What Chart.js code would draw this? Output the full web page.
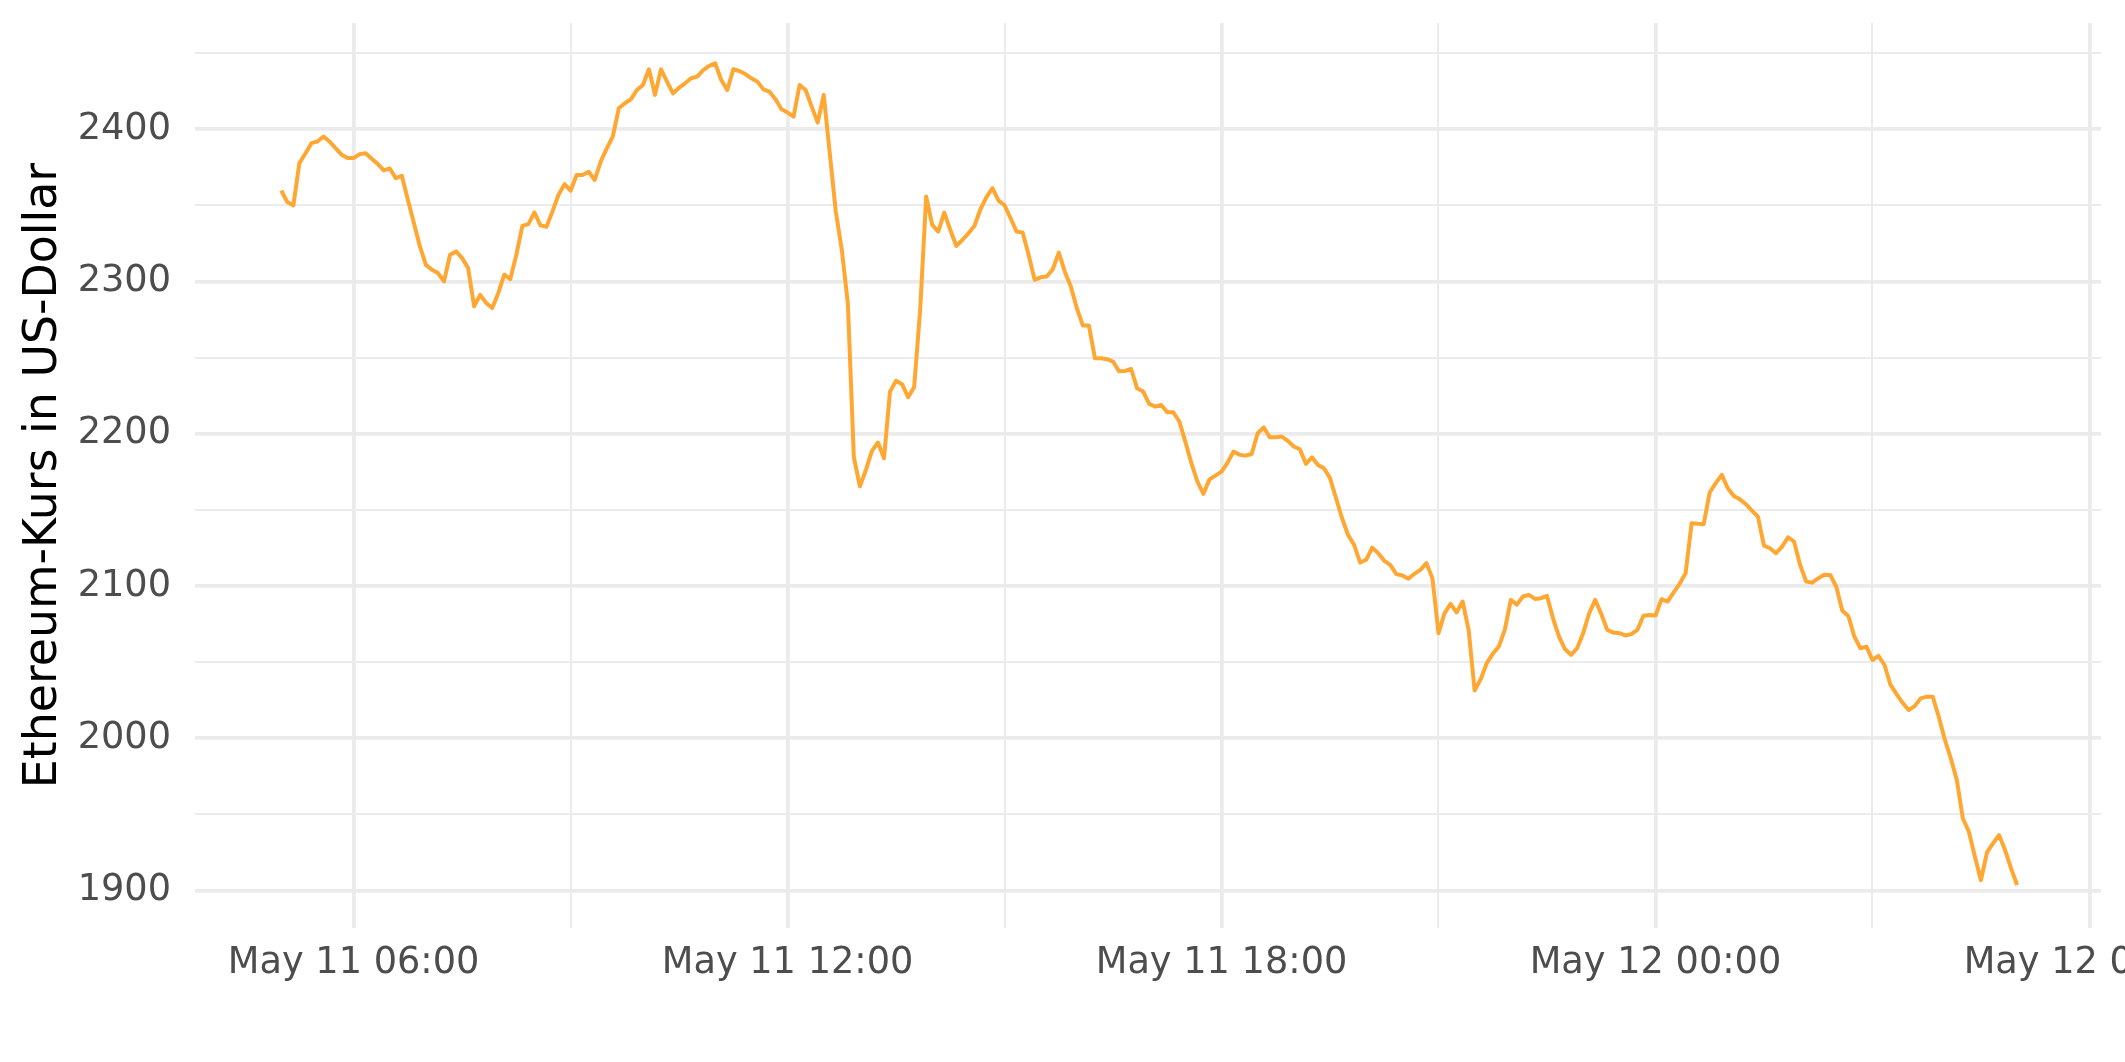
<!DOCTYPE html>
<html>
<head>
<meta charset="utf-8">
<script src="https://cdn.jsdelivr.net/npm/chart.js@4.4.1/dist/chart.umd.min.js"></script>
<style>
  html, body { margin: 0; padding: 0; background: #ffffff; }
  #wrap { width: 2125px; height: 1062px; }
</style>
</head>
<body>
<div id="wrap"><canvas id="c" width="2125" height="1062"></canvas></div>
<script>
// Sampling of the series: 5-minute steps starting May 11, 05:00 (hours since May 11 00:00)
const sampleStartHour = 5;
const sampleStepMinutes = 5;

// Ethereum price in US-Dollar
const ethPrice = [
  2359.7, 2352.1, 2349.9, 2377.7, 2384.0, 2390.8, 2391.9, 2395.2, 2391.9, 2387.5, 2383.2, 2381.0,
  2381.0, 2383.6, 2384.2, 2380.5, 2377.2, 2372.9, 2374.2, 2367.8, 2369.4, 2353.6, 2338.3, 2323.0,
  2310.9, 2307.7, 2305.5, 2300.0, 2317.5, 2319.7, 2315.3, 2308.8, 2283.6, 2291.2, 2285.8, 2282.5,
  2292.3, 2304.4, 2301.5, 2317.5, 2336.5, 2337.6, 2345.3, 2336.8, 2335.9, 2346.0, 2356.9, 2363.9,
  2359.6, 2369.9, 2369.9, 2372.0, 2366.6, 2378.7, 2387.4, 2395.1, 2413.7, 2417.0, 2419.6, 2425.7,
  2429.0, 2439.3, 2422.5, 2439.3, 2431.2, 2423.5, 2427.2, 2430.1, 2433.4, 2434.5, 2438.8, 2441.5,
  2443.2, 2432.3, 2425.7, 2439.3, 2438.2, 2436.2, 2433.4, 2431.2, 2426.1, 2424.6, 2419.6, 2413.0,
  2410.9, 2408.2, 2429.0, 2425.7, 2414.8, 2404.3, 2422.5, 2384.2, 2345.9, 2320.7, 2285.7, 2184.5,
  2165.5, 2176.2, 2188.7, 2194.2, 2183.9, 2227.7, 2234.7, 2232.5, 2224.0, 2230.5, 2281.3, 2355.7,
  2337.1, 2332.7, 2345.2, 2333.8, 2323.3, 2327.2, 2331.6, 2336.4, 2347.4, 2355.3, 2361.2, 2353.1,
  2350.0, 2341.5, 2332.7, 2332.1, 2317.4, 2301.0, 2302.7, 2303.2, 2308.0, 2318.9, 2306.4, 2296.6,
  2282.4, 2271.0, 2271.0, 2249.5, 2249.5, 2248.9, 2247.4, 2241.0, 2241.2, 2242.5, 2229.8, 2227.7,
  2219.6, 2217.8, 2218.9, 2214.1, 2214.1, 2208.0, 2194.8, 2180.6, 2168.6, 2160.5, 2170.0, 2172.5,
  2175.1, 2181.0, 2188.3, 2186.1, 2185.6, 2186.7, 2200.3, 2204.2, 2197.7, 2197.7, 2198.1, 2195.3,
  2191.6, 2189.8, 2180.2, 2184.5, 2179.5, 2177.3, 2170.8, 2157.6, 2144.5, 2133.5, 2127.0, 2115.4,
  2117.2, 2125.2, 2121.5, 2116.5, 2113.9, 2107.8, 2106.9, 2104.7, 2108.0, 2110.6, 2115.0, 2105.0,
  2069.0, 2082.0, 2088.3, 2082.6, 2089.8, 2071.2, 2031.3, 2038.8, 2049.3, 2055.4, 2060.2, 2071.2,
  2090.9, 2087.8, 2093.1, 2094.2, 2091.5, 2092.0, 2093.5, 2078.8, 2066.8, 2058.4, 2054.8, 2059.1,
  2069.0, 2082.1, 2090.9, 2081.7, 2071.2, 2069.4, 2069.0, 2067.5, 2068.4, 2071.2, 2080.4, 2081.0,
  2080.6, 2091.3, 2089.8, 2095.7, 2101.4, 2108.4, 2141.2, 2140.8, 2140.6, 2161.4, 2167.5, 2173.0,
  2164.2, 2159.1, 2156.9, 2153.7, 2149.5, 2145.5, 2126.5, 2124.8, 2121.5, 2125.9, 2132.0, 2129.1,
  2113.8, 2102.9, 2102.2, 2105.0, 2107.4, 2107.2, 2099.5, 2083.8, 2080.3, 2066.7, 2059.1, 2060.2,
  2051.4, 2054.1, 2048.1, 2035.0, 2029.0, 2023.3, 2018.5, 2021.1, 2026.2, 2027.3, 2027.3, 2014.1,
  1999.2, 1986.7, 1972.5, 1947.3, 1938.6, 1922.2, 1906.8, 1925.0, 1931.0, 1936.4, 1926.6, 1914.5,
  1903.6
];

// X axis ticks (hours since May 11 00:00)
const xMajorHours = [6, 12, 18, 24, 30];
const xTickLabels = ['May 11 06:00', 'May 11 12:00', 'May 11 18:00', 'May 12 00:00', 'May 12 06:00'];
const xMinorHours = [9, 15, 21, 27];

// Y axis ticks
const yMajorValues = [1900, 2000, 2100, 2200, 2300, 2400];
const yTickLabels = ['1900', '2000', '2100', '2200', '2300', '2400'];
const yMinorValues = [1950, 2050, 2150, 2250, 2350, 2450];

const yTitle = 'Ethereum-Kurs in US-Dollar';

const points = ethPrice.map((v, i) => ({ x: sampleStartHour + i * sampleStepMinutes / 60, y: v }));

const GRID = '#EBEBEB';
const FONT = "'DejaVu Sans', 'Liberation Sans', sans-serif";

new Chart(document.getElementById('c'), {
  type: 'line',
  data: {
    datasets: [{
      data: points,
      borderColor: '#FFA733',
      borderWidth: 4.0,
      pointRadius: 0,
      pointHoverRadius: 0,
      tension: 0,
      fill: false,
      borderJoinStyle: 'round',
      borderCapStyle: 'butt'
    }]
  },
  options: {
    responsive: false,
    devicePixelRatio: 1,
    animation: false,
    events: [],
    layout: { padding: { top: 23, right: 24, bottom: 0, left: 0 } },
    plugins: { legend: { display: false }, tooltip: { enabled: false }, title: { display: false } },
    scales: {
      x: {
        type: 'linear',
        min: 3.807,
        max: 30.16,
        border: { display: false },
        afterBuildTicks: (scale) => {
          const all = xMajorHours.concat(xMinorHours).sort((a, b) => a - b);
          scale.ticks = all.map(v => ({ value: v }));
        },
        afterFit: (scale) => {
          scale.height = 134;
          scale.paddingLeft = 0;
          scale.paddingRight = 0;
        },
        grid: {
          drawTicks: false,
          color: GRID,
          lineWidth: (ctx) => (ctx.tick && xMajorHours.includes(ctx.tick.value)) ? 3.8 : 2.0
        },
        ticks: {
          autoSkip: false,
          maxRotation: 0,
          minRotation: 0,
          padding: 13,
          color: '#4D4D4D',
          font: { family: FONT, size: 36.7 },
          callback: (value) => {
            const k = xMajorHours.indexOf(value);
            return k >= 0 ? xTickLabels[k] : '';
          }
        }
      },
      y: {
        type: 'linear',
        min: 1875.4,
        max: 2469.7,
        border: { display: false },
        afterBuildTicks: (scale) => {
          const all = yMajorValues.concat(yMinorValues).sort((a, b) => a - b);
          scale.ticks = all.map(v => ({ value: v }));
        },
        afterFit: (scale) => {
          scale.width = 195;
          scale.paddingTop = 0;
          scale.paddingBottom = 0;
        },
        grid: {
          drawTicks: false,
          color: GRID,
          lineWidth: (ctx) => (ctx.tick && yMajorValues.includes(ctx.tick.value)) ? 3.8 : 2.0
        },
        ticks: {
          autoSkip: false,
          padding: 24,
          color: '#4D4D4D',
          font: { family: FONT, size: 36.7 },
          callback: (value) => {
            const k = yMajorValues.indexOf(value);
            return k >= 0 ? yTickLabels[k] : '';
          }
        },
        title: {
          display: true,
          text: yTitle,
          color: '#000000',
          font: { family: FONT, size: 45.8 },
          padding: { top: 17, bottom: 0 }
        }
      }
    }
  }
});
</script>
</body>
</html>
